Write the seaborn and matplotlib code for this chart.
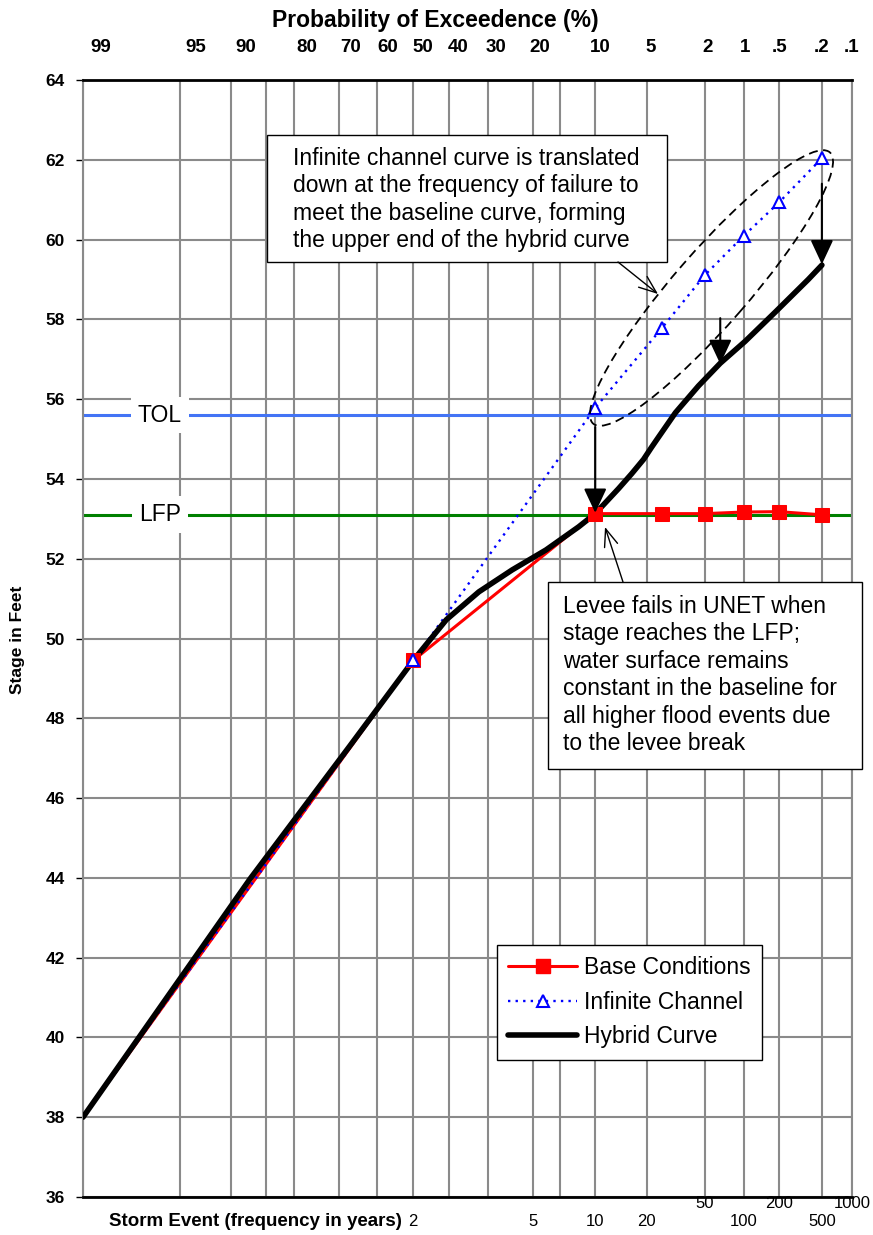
from statistics import NormalDist
import numpy as np
import pandas as pd
import matplotlib
matplotlib.use('Agg')
import matplotlib.pyplot as plt
import matplotlib.transforms as mtransforms
from matplotlib.lines import Line2D
from matplotlib.patches import Rectangle, Ellipse
import seaborn as sns

# probability of exceedance (%) and stage (ft)
base_pct = [99, 50, 10, 4, 2, 1, 0.5, 0.2]
base_stage = [38.0, 49.45, 53.13, 53.13, 53.13, 53.17, 53.18, 53.1]

inf_pct = [99, 50, 10, 4, 2, 1, 0.5, 0.2]
inf_stage = [38.0, 49.45, 55.78, 57.78, 59.11, 60.09, 60.93, 62.04]

hyb_pct = [99, 87.5, 67.3, 50, 40.8, 32.2, 24.3, 17.5, 12.2, 10, 7.4, 6.2,
           5.24, 4.67, 4.2, 3.24, 2.23, 1.53, 0.97, 0.54, 0.27, 0.2]
hyb_stage = [38.0, 43.97, 47.3, 49.45, 50.47, 51.17, 51.72, 52.22, 52.8, 53.13,
             53.76, 54.13, 54.49, 54.79, 55.05, 55.66, 56.33, 56.9, 57.45, 58.18,
             59.0, 59.36]

TOL = 55.6
LFP = 53.1

prob_ticks = [99, 95, 90, 85, 80, 70, 60, 50, 40, 30, 20, 15, 10, 5, 2, 1, 0.5, 0.2, 0.1]
prob_labels = ['99', '95', '90', '', '80', '70', '60', '50', '40', '30', '20', '',
               '10', '5', '2', '1', '.5', '.2', '.1']

storm_pct = [50, 20, 10, 5, 2, 1, 0.5, 0.2, 0.1]
storm_years = ['2', '5', '10', '20', '50', '100', '200', '500', '1000']
storm_raised = [False, False, False, False, True, False, True, False, True]

# normal probability scale
nd = NormalDist()


def prob_to_z(p):
    p = np.clip(np.asarray(p, dtype=float), 1e-6, 100 - 1e-6)
    return np.vectorize(lambda v: nd.inv_cdf(v / 100.0), otypes=[float])(p)


def z_to_prob(z):
    z = np.asarray(z, dtype=float)
    return np.vectorize(lambda v: 100.0 * nd.cdf(v), otypes=[float])(z)


sns.set_theme(style='white')
plt.rcParams['font.family'] = ['Liberation Sans', 'DejaVu Sans']
plt.rcParams['text.color'] = 'black'
plt.rcParams['xtick.color'] = 'black'
plt.rcParams['ytick.color'] = 'black'

fig = plt.figure(figsize=(8.73, 12.35), dpi=100)
ax = fig.add_axes([83 / 873, 38 / 1235, 769 / 873, 1117 / 1235])

base = pd.DataFrame({'pct': base_pct, 'stage': base_stage})
inf = pd.DataFrame({'pct': inf_pct, 'stage': inf_stage})
hyb = pd.DataFrame({'pct': hyb_pct, 'stage': hyb_stage})

sns.lineplot(data=base, x='pct', y='stage', ax=ax, color='red', linewidth=2.2,
             sort=False, estimator=None, legend=False, zorder=3)
sns.lineplot(data=inf, x='pct', y='stage', ax=ax, color='blue', linewidth=1.7,
             linestyle=(0, (1, 2.2)), sort=False, estimator=None, legend=False,
             zorder=3.5)
sns.lineplot(data=hyb, x='pct', y='stage', ax=ax, color='black', linewidth=4,
             sort=False, estimator=None, legend=False, zorder=4,
             solid_capstyle='round', solid_joinstyle='round')
sns.lineplot(data=base.iloc[1:], x='pct', y='stage', ax=ax, color='red',
             linestyle='none', marker='s', markersize=10, markeredgecolor='red',
             sort=False, estimator=None, legend=False, zorder=5)
sns.lineplot(data=inf.iloc[1:], x='pct', y='stage', ax=ax, color='blue',
             linestyle='none', marker='^', markersize=9, markerfacecolor='white',
             markeredgecolor='blue', markeredgewidth=1.5,
             sort=False, estimator=None, legend=False, zorder=6)

ax.axhline(TOL, color='#4374f5', linewidth=2.2, zorder=2)
ax.axhline(LFP, color='#008000', linewidth=2.2, zorder=2)
ytr = ax.get_yaxis_transform()
for val, name in [(TOL, 'TOL'), (LFP, 'LFP')]:
    ax.text(0.1, val, name, transform=ytr, ha='center', va='center', fontsize=16.5,
            zorder=2.5, bbox=dict(facecolor='white', edgecolor='none', pad=5))

ax.set_xscale('function', functions=(prob_to_z, z_to_prob))
ax.set_xlim(99, 0.1)
ax.set_ylim(36, 64)
ax.set_xticks(prob_ticks)
ax.set_xticklabels([])
ax.set_yticks(np.arange(36, 65, 2))
ax.set_xlabel('')
ax.set_ylabel('')
ax.grid(True, color='#8a8a8a', linewidth=1.5)
ax.set_axisbelow(True)
ax.tick_params(axis='x', length=0)
ax.tick_params(axis='y', left=True, length=5, width=1, color='black',
               direction='out', pad=8, labelsize=12.5)
for lbl in ax.get_yticklabels():
    lbl.set_fontweight('bold')
for s in ['top', 'bottom']:
    ax.spines[s].set_color('black')
    ax.spines[s].set_linewidth(2)
for s in ['left', 'right']:
    ax.spines[s].set_color('#8a8a8a')
    ax.spines[s].set_linewidth(1.5)

# top probability labels (sit slightly inside the gridlines in the original)
ax2 = ax.twiny()
ax2.set_xscale('function', functions=(prob_to_z, z_to_prob))
ax2.set_xlim(99.3, 0.098)
ax2.set_xticks(prob_ticks)
ax2.set_xticklabels(prob_labels, fontweight='bold', fontsize=13.5)
ax2.tick_params(axis='x', top=True, length=0, pad=17)
ax2.grid(False)
for s in ax2.spines.values():
    s.set_visible(False)

# storm event labels along the bottom
btr = mtransforms.blended_transform_factory(ax.transData, fig.dpi_scale_trans)
for p, yr, up in zip(storm_pct, storm_years, storm_raised):
    ax.text(p, 0.31 if up else 0.14, yr, transform=btr, ha='center', va='center',
            fontsize=12, clip_on=False)

fig.text(109 / 873, 14 / 1235, 'Storm Event (frequency in years)', ha='left',
         va='center', fontweight='bold', fontsize=13.5)
fig.text(435 / 873, 1 - 20 / 1235, 'Probability of Exceedence (%)', ha='center',
         va='center', fontweight='bold', fontsize=16.5)
fig.text(18 / 873, 1 - 640 / 1235, 'Stage in Feet', rotation=90, ha='center',
         va='center', fontweight='bold', fontsize=12.5)

# callout boxes, ellipse and arrows (figure inches from bottom-left)
inch = fig.dpi_scale_trans
ax.add_patch(Ellipse((7.115, 9.47), 3.6, 0.74, angle=48.9, transform=inch,
                     fill=False, edgecolor='black', linewidth=1.3,
                     linestyle=(0, (5, 3)), clip_on=False, zorder=7))

ax.add_patch(Rectangle((2.67, 9.73), 4.00, 1.27, transform=inch, facecolor='white',
                       edgecolor='black', linewidth=1, clip_on=False, zorder=8))
ax.text(2.93, 10.355, 'Infinite channel curve is translated\n'
        'down at the frequency of failure to\n'
        'meet the baseline curve, forming\n'
        'the upper end of the hybrid curve', transform=inch, ha='left',
        va='center', fontsize=16.5, linespacing=1.25, zorder=9)

ax.add_patch(Rectangle((5.48, 4.66), 3.14, 1.87, transform=inch, facecolor='white',
                       edgecolor='black', linewidth=1, clip_on=False, zorder=8))
ax.text(5.63, 5.60, 'Levee fails in UNET when\n'
        'stage reaches the LFP;\n'
        'water surface remains\n'
        'constant in the baseline for\n'
        'all higher flood events due\n'
        'to the levee break', transform=inch, ha='left', va='center',
        fontsize=16.5, linespacing=1.25, zorder=9)

open_head = dict(arrowstyle='->,head_length=0.9,head_width=0.35', color='black',
                 linewidth=1, mutation_scale=14, shrinkA=0, shrinkB=0)
ax.annotate('', xy=(6.58, 9.41), xytext=(6.18, 9.73), xycoords=inch,
            textcoords=inch, arrowprops=open_head, zorder=9)
ax.annotate('', xy=(6.05, 7.08), xytext=(6.23, 6.53), xycoords=inch,
            textcoords=inch, arrowprops=open_head, zorder=9)

solid_head = dict(arrowstyle='-|>,head_length=0.75,head_width=0.35', color='black',
                  linewidth=1.5, mutation_scale=20, shrinkA=0, shrinkB=0)
for x0, y0, y1 in [(10, 55.3, 53.15), (1.53, 58.03, 56.88), (0.2, 61.4, 59.38)]:
    ax.annotate('', xy=(x0, y1), xytext=(x0, y0), arrowprops=solid_head, zorder=7)

handles = [Line2D([0], [0], color='red', linewidth=2.2, marker='s', markersize=10,
                  markeredgecolor='red'),
           Line2D([0], [0], color='blue', linewidth=1.7, linestyle=(0, (1, 2.2)),
                  marker='^', markersize=9, markerfacecolor='white',
                  markeredgecolor='blue', markeredgewidth=1.5),
           Line2D([0], [0], color='black', linewidth=4, solid_capstyle='round')]
leg = ax.legend(handles, ['Base Conditions', 'Infinite Channel', 'Hybrid Curve'],
                loc='upper left', bbox_to_anchor=(0.538, 0.2256), borderaxespad=0,
                frameon=True, fancybox=False, edgecolor='black', framealpha=1,
                fontsize=16.5, handlelength=3.0, handletextpad=0.3, borderpad=0.5,
                labelspacing=0.5)
leg.get_frame().set_linewidth(1)
leg.set_zorder(10)

fig.savefig('out.png', dpi=100)
